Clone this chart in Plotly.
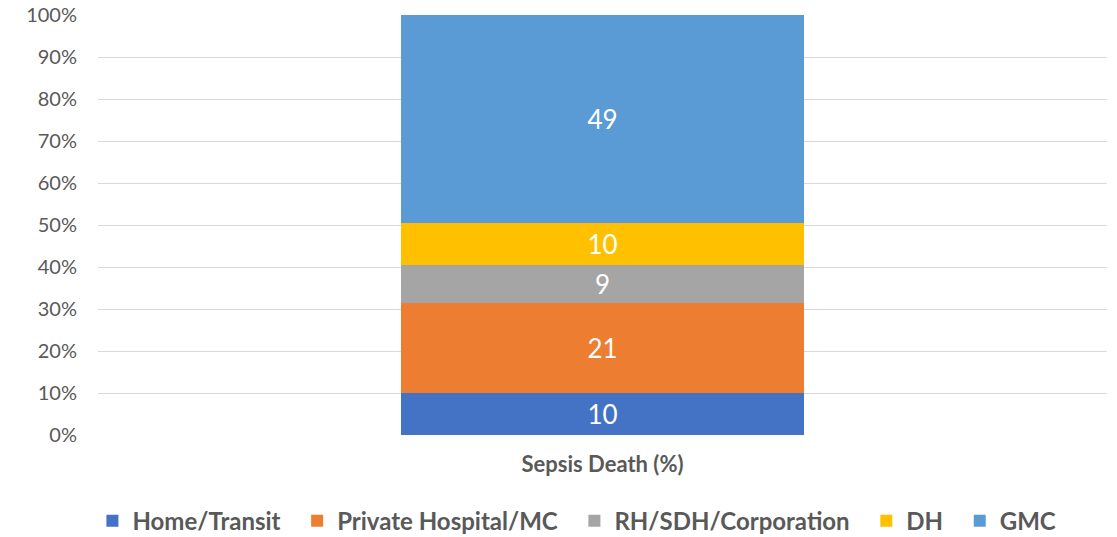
import plotly.graph_objects as go

categories = ["Sepsis Death (%)"]
series_names = ["Home/Transit", "Private Hospital/MC", "RH/SDH/Corporation", "DH", "GMC"]
series_values = [10, 21, 9, 10, 49]
series_colors = ["#4472C4", "#ED7D31", "#A5A5A5", "#FFC000", "#5B9BD5"]
y_ticks = list(range(0, 101, 10))
y_tick_labels = [f"{v}%" for v in y_ticks]

FONT = "Lato"
GREY = "#595959"
PAD = "\u00a0\u00a0"  # a little extra room between legend entries

fig = go.Figure()
for i, (name, val, col) in enumerate(zip(series_names, series_values, series_colors)):
    fig.add_trace(go.Bar(
        x=categories, y=[val],
        name=name + (PAD if i < len(series_names) - 1 else ""),
        marker=dict(color=col, line=dict(width=0)),
        text=[str(val)], textposition="inside", insidetextanchor="middle",
        textangle=0, textfont=dict(color="white", size=26, family=FONT),
        width=0.4,
    ))

# page body has an 8px margin, so the figure is sized to fit inside the window
fig.update_layout(
    barmode="stack", barnorm="percent",
    width=1109, height=529,
    margin=dict(l=90, r=10, t=7, b=102),
    plot_bgcolor="white", paper_bgcolor="white",
    font=dict(family=FONT, color=GREY),
    legend=dict(orientation="h", x=0.513, xanchor="center", xref="container",
                y=0.03, yanchor="middle", yref="container",
                font=dict(size=24, family=FONT, color=GREY, weight="bold"),
                itemwidth=30, traceorder="normal", tracegroupgap=0),
    showlegend=True,
)
fig.update_yaxes(range=[0, 100], tickvals=y_ticks, ticktext=y_tick_labels,
                 showgrid=True, gridcolor="#D9D9D9", gridwidth=1,
                 zeroline=False, showline=False, automargin=False,
                 ticklabeloverflow="allow",
                 tickfont=dict(size=20, color=GREY, family=FONT),
                 ticklabelstandoff=20)
fig.update_xaxes(showgrid=False, showline=False, zeroline=False, automargin=False,
                 tickfont=dict(size=22, color=GREY, family=FONT, weight="bold"),
                 ticklabelstandoff=14)

fig.write_html("out.html")
